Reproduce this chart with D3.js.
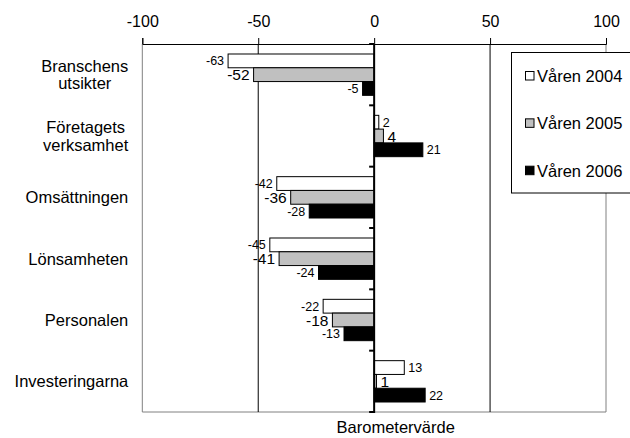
<!DOCTYPE html>
<html>
<head>
<meta charset="utf-8">
<script src="https://cdn.jsdelivr.net/npm/d3@7"></script>
<style>
  html, body { margin: 0; padding: 0; background: #fff; }
  svg { display: block; font-family: "Liberation Sans", Arial, sans-serif; }
</style>
</head>
<body>
<svg id="chart" width="630" height="438"></svg>
<script>
const categories = [
  ["Branschens", "utsikter"],
  ["Företagets", "verksamhet"],
  ["Omsättningen"],
  ["Lönsamheten"],
  ["Personalen"],
  ["Investeringarna"]
];
const seriesNames = ["Våren 2004", "Våren 2005", "Våren 2006"];
const values2004 = [-63, 2, -42, -45, -22, 13];
const values2005 = [-52, 4, -36, -41, -18, 1];
const values2006 = [-5, 21, -28, -24, -13, 22];
const tickValues = [-100, -50, 0, 50, 100];
const axisTitle = "Barometervärde";

(function () {
const seriesValues = [values2004, values2005, values2006];
const fills = ["#ffffff", "#c0c0c0", "#000000"];
const labelSizes = [12.5, 15.5, 12.5];

const svg = d3.select("#chart");
const pLeft = 142.3, pRight = 606, pTop = 44, pBottom = 412;

const x = d3.scaleLinear().domain([-100, 100]).range([pLeft, pRight]);
const catIdx = d3.range(categories.length);
const y0 = d3.scaleBand().domain(catIdx).range([pTop, pBottom]).paddingInner(0.326).paddingOuter(0.163);
const y1 = d3.scaleBand().domain(d3.range(seriesNames.length)).range([0, y0.bandwidth()]);
const step = (pBottom - pTop) / categories.length;

// frame (gray)
const frame = svg.append("g").attr("stroke", "#808080").attr("stroke-width", 1).attr("fill", "none");
frame.append("line").attr("x1", pLeft).attr("x2", pLeft).attr("y1", pTop).attr("y2", pBottom);
frame.append("line").attr("x1", pRight).attr("x2", pRight).attr("y1", pTop).attr("y2", pBottom);
frame.append("line").attr("x1", pLeft).attr("x2", pRight).attr("y1", pBottom).attr("y2", pBottom);

// gridlines
svg.append("g").selectAll("line").data([-50, 50]).join("line")
  .attr("x1", d => x(d)).attr("x2", d => x(d))
  .attr("y1", pTop).attr("y2", pBottom)
  .attr("stroke", "#000").attr("stroke-width", 1);

// top axis
const axis = d3.axisTop(x).tickValues(tickValues).tickSize(6).tickPadding(11).tickFormat(d3.format("d"));
const ax = svg.append("g").attr("transform", `translate(0,${pTop})`).call(axis);
ax.select(".domain").attr("stroke", "#000");
ax.selectAll(".tick line").attr("stroke", "#000");
ax.selectAll(".tick text").attr("font-size", 16).attr("fill", "#000")
  .attr("font-family", "Liberation Sans, Arial, sans-serif")
  .text(d => d < 0 ? "-" + Math.abs(d) : d);

// bars
const groups = svg.append("g").selectAll("g").data(catIdx).join("g")
  .attr("transform", i => `translate(0,${y0(i)})`);

groups.selectAll("rect").data(i => seriesValues.map((s, k) => ({k, v: s[i]}))).join("rect")
  .attr("x", d => x(Math.min(0, d.v)))
  .attr("width", d => Math.abs(x(d.v) - x(0)))
  .attr("y", d => y1(d.k))
  .attr("height", y1.bandwidth())
  .attr("fill", d => fills[d.k])
  .attr("stroke", "#000").attr("stroke-width", 1);

groups.selectAll("text").data(i => seriesValues.map((s, k) => ({k, v: s[i]}))).join("text")
  .attr("x", d => d.v < 0 ? x(d.v) - 4 : x(d.v) + 4)
  .attr("y", d => y1(d.k) + y1.bandwidth() / 2)
  .attr("dy", "0.36em")
  .attr("text-anchor", d => d.v < 0 ? "end" : "start")
  .attr("font-size", d => labelSizes[d.k])
  .attr("fill", "#000")
  .text(d => d.v < 0 ? "-" + Math.abs(d.v) : d.v);

// zero axis with ticks at category boundaries
const x0 = x(0);
svg.append("line").attr("x1", x0).attr("x2", x0).attr("y1", pTop).attr("y2", pBottom + 1)
  .attr("stroke", "#000").attr("stroke-width", 2);
svg.append("g").selectAll("line").data(d3.range(categories.length + 1)).join("line")
  .attr("x1", x0 - 5).attr("x2", x0)
  .attr("y1", i => pTop + i * step).attr("y2", i => pTop + i * step)
  .attr("stroke", "#000").attr("stroke-width", 2);

// category labels
const labelRight = 128.3, lineH = 17.5;
catIdx.forEach(i => {
  const lines = categories[i];
  const cy = y0(i) + y0.bandwidth() / 2;
  const g = svg.append("g");
  const texts = lines.map((t, j) => g.append("text")
    .attr("font-size", 16.5).attr("fill", "#000")
    .attr("y", cy + (j - (lines.length - 1) / 2) * lineH)
    .attr("dy", "0.36em")
    .attr("text-anchor", "middle")
    .text(t));
  const maxW = d3.max(texts, t => t.node().getComputedTextLength());
  texts.forEach(t => t.attr("x", labelRight - maxW / 2));
});

// axis title
svg.append("text").attr("x", 395.7).attr("y", 432.7).attr("text-anchor", "middle")
  .attr("font-size", 16.5).attr("fill", "#000").text(axisTitle);

// legend
const lg = svg.append("g");
lg.append("rect").attr("x", 511.5).attr("y", 52.5).attr("width", 140).attr("height", 140.5)
  .attr("fill", "#fff").attr("stroke", "#000").attr("stroke-width", 1);
const ly = d3.scalePoint().domain(d3.range(seriesNames.length)).range([76, 170.7]);
seriesNames.forEach((name, k) => {
  lg.append("rect").attr("x", 525.5).attr("y", ly(k) - 4.5).attr("width", 8.5).attr("height", 8.5)
    .attr("fill", fills[k]).attr("stroke", "#000").attr("stroke-width", 1);
  lg.append("text").attr("x", 537).attr("y", ly(k)).attr("dy", "0.36em")
    .attr("font-size", 16.5).attr("fill", "#000").text(name);
});
})();
</script>
</body>
</html>
